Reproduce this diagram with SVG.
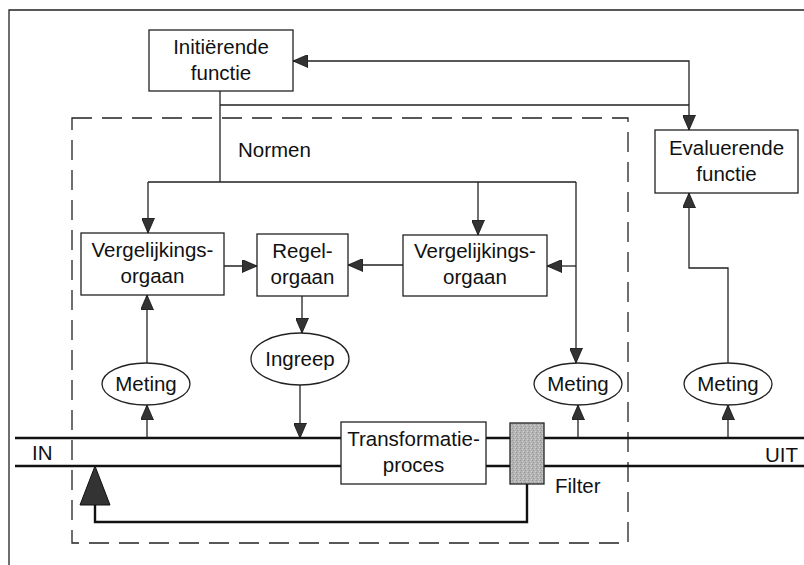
<svg xmlns="http://www.w3.org/2000/svg" width="804" height="565" viewBox="0 0 804 565">
  <defs>
    <style>
      .box { fill: #fff; stroke: #222; stroke-width: 1.3; }
      .ell { fill: #fff; stroke: #222; stroke-width: 1.3; }
      .lbl { font-family: "Liberation Sans", Arial, sans-serif; font-size: 20.5px; fill: #111; text-anchor: middle; }
      .lbl-l { font-family: "Liberation Sans", Arial, sans-serif; font-size: 20.5px; fill: #111; }
      .wire { fill: none; stroke: #222; stroke-width: 1.3; }
      .rail { fill: none; stroke: #111; stroke-width: 2.6; }
      .fb { fill: none; stroke: #111; stroke-width: 2.4; }
    </style>
    <marker id="arr" viewBox="0 0 15 13" refX="15" refY="6.5" markerWidth="15" markerHeight="13" markerUnits="userSpaceOnUse" orient="auto-start-reverse">
      <path d="M0,0 L15,6.5 L0,13 Z" fill="#333" stroke="#111" stroke-width="0.8"/>
    </marker>
    <pattern id="grain" width="4" height="4" patternUnits="userSpaceOnUse">
      <rect width="4" height="4" fill="#b4b4b4"/>
      <rect x="0" y="0" width="1" height="1" fill="#959595"/>
      <rect x="2" y="1" width="1" height="1" fill="#d0d0d0"/>
      <rect x="1" y="2" width="1" height="1" fill="#979797"/>
      <rect x="3" y="3" width="1" height="1" fill="#cfcfcf"/>
    </pattern>
  </defs>

  <rect width="804" height="565" fill="#fff"/>

  <!-- outer frame (left and top edges only) -->
  <path d="M9,565 V10 H804" fill="none" stroke="#222" stroke-width="1.3"/>

  <!-- control system boundary -->
  <rect id="boundary" x="72" y="118" width="556" height="425" fill="none" stroke="#222" stroke-width="1.3" stroke-dasharray="20 10"/>
  <text class="lbl-l" x="238" y="157">Normen</text>

  <!-- process rails -->
  <g id="rails">
    <path class="rail" d="M15,438 H341 M486,438 H510 M544,438 H804"/>
    <path class="rail" d="M15,466 H341 M486,466 H510 M544,466 H804"/>
    <text class="lbl-l" x="32" y="460">IN</text>
    <text class="lbl-l" x="798" y="462" text-anchor="end">UIT</text>
  </g>

  <!-- connectors -->
  <g id="connectors">
    <path class="wire" d="M293,61 H689 V130" marker-start="url(#arr)" marker-end="url(#arr)"/>
    <path class="wire" d="M220,91 V182 M220,105 H689 M148,182 H576"/>
    <path class="wire" d="M148,182 V233" marker-end="url(#arr)"/>
    <path class="wire" d="M478,182 V235" marker-end="url(#arr)"/>
    <path class="wire" d="M576,182 V363" marker-end="url(#arr)"/>
    <path class="wire" d="M576,266 H547" marker-end="url(#arr)"/>
    <path class="wire" d="M224,266 H257" marker-end="url(#arr)"/>
    <path class="wire" d="M403,265 H348" marker-end="url(#arr)"/>
    <path class="wire" d="M302,296 V333" marker-end="url(#arr)"/>
    <path class="wire" d="M300,385 V438" marker-end="url(#arr)"/>
    <path class="wire" d="M147,363 V295" marker-end="url(#arr)"/>
    <path class="wire" d="M147,438 V405" marker-end="url(#arr)"/>
    <path class="wire" d="M578,438 V405" marker-end="url(#arr)"/>
    <path class="wire" d="M728,438 V405" marker-end="url(#arr)"/>
    <path class="wire" d="M728,363 V268 H689 V193" marker-end="url(#arr)"/>
    <!-- feedback from filter back to the input -->
    <path class="fb" d="M527,484 V522 H95 V505"/>
    <path d="M80,505 L95,466 L110,505 Z" fill="#333" stroke="#111" stroke-width="1"/>
  </g>

  <g id="initierende">
    <rect class="box" x="149" y="30" width="144" height="61"/>
    <text class="lbl" x="221" y="54">Initiërende</text>
    <text class="lbl" x="221" y="80">functie</text>
  </g>

  <g id="evaluerende">
    <rect class="box" x="655" y="130" width="143" height="63"/>
    <text class="lbl" x="726.5" y="155">Evaluerende</text>
    <text class="lbl" x="726.5" y="181">functie</text>
  </g>

  <g id="vergelijking-links">
    <rect class="box" x="81" y="233" width="143" height="62"/>
    <text class="lbl" x="152.5" y="257">Vergelijkings-</text>
    <text class="lbl" x="152.5" y="283">orgaan</text>
  </g>

  <g id="regelorgaan">
    <rect class="box" x="257" y="234" width="91" height="62"/>
    <text class="lbl" x="302.5" y="258">Regel-</text>
    <text class="lbl" x="302.5" y="284">orgaan</text>
  </g>

  <g id="vergelijking-rechts">
    <rect class="box" x="403" y="235" width="144" height="61"/>
    <text class="lbl" x="475" y="258">Vergelijkings-</text>
    <text class="lbl" x="475" y="284">orgaan</text>
  </g>

  <g id="ingreep">
    <ellipse class="ell" cx="300" cy="359" rx="49" ry="26"/>
    <text class="lbl" x="300" y="366">Ingreep</text>
  </g>

  <g id="meting-links">
    <ellipse class="ell" cx="146" cy="384" rx="44" ry="21"/>
    <text class="lbl" x="146" y="391">Meting</text>
  </g>

  <g id="meting-midden">
    <ellipse class="ell" cx="578" cy="384" rx="44" ry="21"/>
    <text class="lbl" x="578" y="391">Meting</text>
  </g>

  <g id="meting-rechts">
    <ellipse class="ell" cx="728" cy="384" rx="44" ry="21"/>
    <text class="lbl" x="728" y="391">Meting</text>
  </g>

  <g id="transformatie">
    <rect class="box" x="341" y="422" width="145" height="62"/>
    <text class="lbl" x="413.5" y="446">Transformatie-</text>
    <text class="lbl" x="413.5" y="472">proces</text>
  </g>

  <g id="filter">
    <rect x="510" y="423" width="34" height="61" fill="url(#grain)" stroke="#222" stroke-width="1.3"/>
    <text class="lbl-l" x="555" y="493">Filter</text>
  </g>
</svg>
